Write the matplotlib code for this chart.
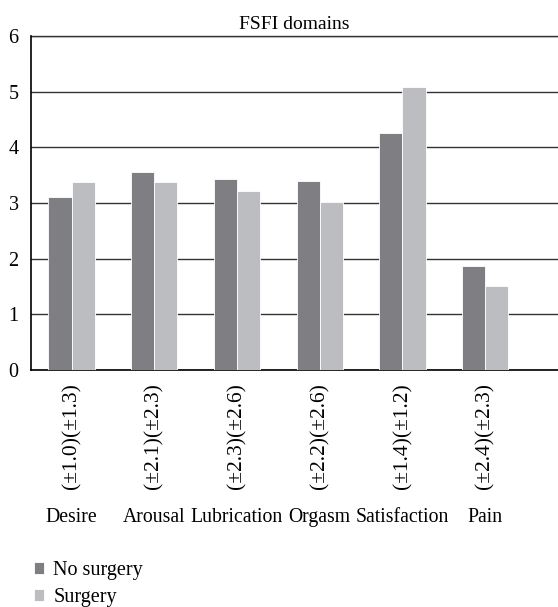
import numpy as np
import matplotlib
matplotlib.use('Agg')
from matplotlib import pyplot as plt
from matplotlib.transforms import blended_transform_factory

domains = ['Desire', 'Arousal', 'Lubrication', 'Orgasm', 'Satisfaction', 'Pain']
no_surgery = [3.11, 3.55, 3.44, 3.40, 4.26, 1.87]
surgery = [3.38, 3.37, 3.21, 3.01, 5.09, 1.51]
sd_labels = ['(±1.0)(±1.3)', '(±2.1)(±2.3)', '(±2.3)(±2.6)',
             '(±2.2)(±2.6)', '(±1.4)(±1.2)', '(±2.4)(±2.3)']

plt.rcParams['font.family'] = ['Liberation Serif', 'DejaVu Serif']

fig = plt.figure(figsize=(5.58, 6.07), dpi=100)
ax = fig.add_axes([0.0556, 0.3904, 0.9444, 0.5503])

x = np.arange(len(domains))
w = 0.28
dark = '#7f7f83'
light = '#bcbdc1'
ax.bar(x - w / 2, no_surgery, w, color=dark, edgecolor='white', linewidth=0.6,
       label='No surgery', zorder=3)
ax.bar(x + w / 2, surgery, w, color=light, edgecolor='white', linewidth=0.6,
       label='Surgery', zorder=3)

ax.set_ylim(0, 6)
ax.set_xlim(-0.49, 5.88)
ax.set_yticks(range(7))
ax.tick_params(axis='y', length=0, pad=9, labelsize=14.5)
ax.set_xticks([])
ax.grid(axis='y', color='#333333', linewidth=1.0, zorder=0)
ax.spines['right'].set_visible(False)
ax.spines['top'].set_visible(False)
ax.spines['left'].set_linewidth(1.2)
ax.spines['bottom'].set_linewidth(1.2)
ax.axhline(6, color='#333333', linewidth=1.0, clip_on=False)

ax.set_title('FSFI domains', fontsize=14, pad=5)

trans = blended_transform_factory(ax.transData, ax.transAxes)
for i in range(len(domains)):
    ax.text(x[i], -0.04, sd_labels[i], rotation=90, ha='center', va='top',
            fontsize=15.5, transform=trans)
    ax.text(x[i], -0.44, domains[i], ha='center', va='center',
            fontsize=14.2, transform=trans)

fig.legend(loc='lower left', bbox_to_anchor=(0.029, -0.03), frameon=False,
           fontsize=14.5, handlelength=0.5, handleheight=0.5, handletextpad=0.45,
           labelspacing=0.4)

fig.savefig('out.png', dpi=100)
